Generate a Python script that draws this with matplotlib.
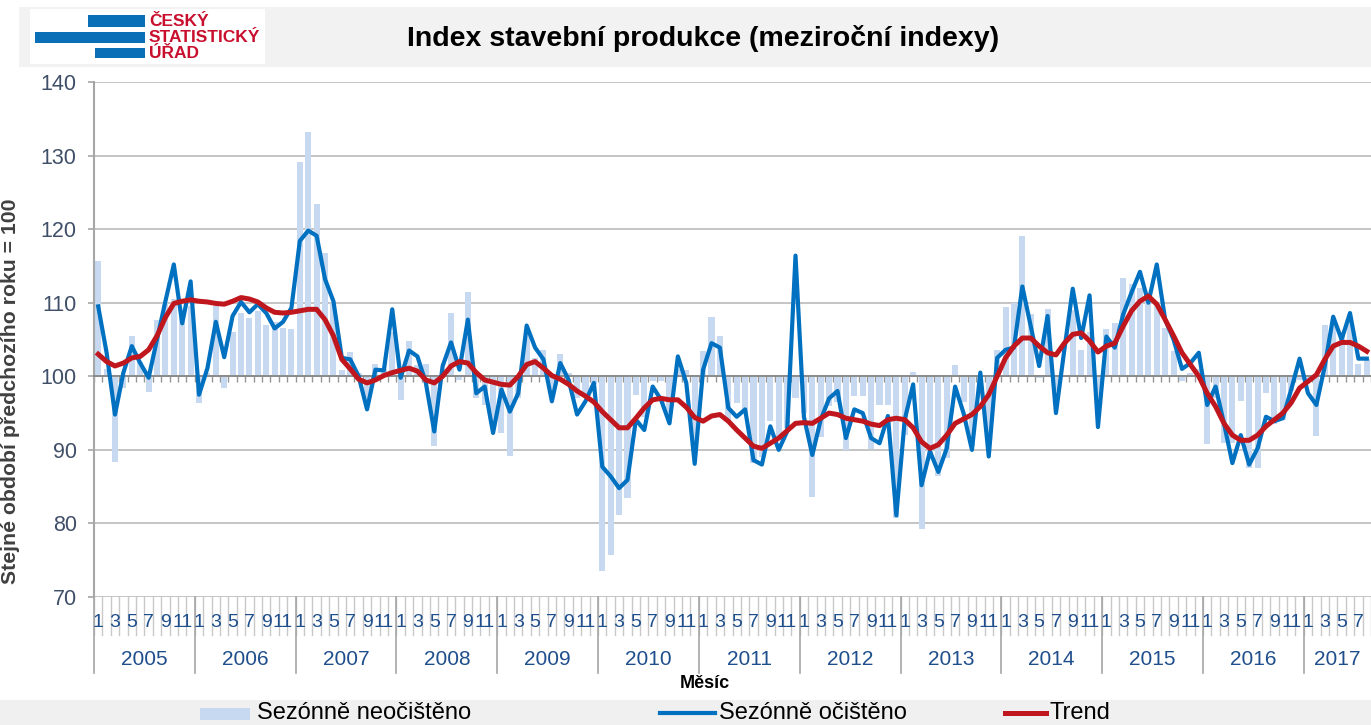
import numpy as np
import matplotlib
matplotlib.use('Agg')
import matplotlib.pyplot as plt
from matplotlib.patches import Rectangle
from matplotlib.lines import Line2D

plt.rcParams['font.family'] = ['Liberation Sans', 'DejaVu Sans']

# data: monthly year-on-year indices, Jan 2005 - Aug 2017
years = ['2005', '2006', '2007', '2008', '2009', '2010', '2011', '2012',
         '2013', '2014', '2015', '2016', '2017']

nsa = [115.7, 101.0, 88.3, 98.4, 105.5, 102.0, 97.8, 107.6, 110.0, 110.5, 108.0, 109.5,
       96.4, 100.5, 109.5, 98.4, 106.0, 108.6, 107.9, 108.9, 107.0, 107.4, 106.6, 106.4,
       129.1, 133.2, 123.4, 116.8, 110.0, 100.9, 103.3, 100.5, 96.0, 101.7, 101.0, 106.0,
       96.8, 104.8, 101.5, 101.7, 90.5, 101.0, 108.6, 99.5, 111.5, 97.0, 96.1, 93.0,
       92.3, 89.2, 97.0, 105.9, 102.5, 103.6, 98.0, 103.0, 100.5, 97.0, 97.5, 99.0,
       73.6, 75.7, 81.1, 83.4, 97.5, 94.5, 99.3, 99.3, 95.0, 101.0, 100.8, 90.0,
       103.4, 108.0, 105.5, 94.0, 96.4, 95.0, 88.2, 89.0, 93.9, 91.4, 93.0, 97.0,
       95.0, 83.6, 91.8, 96.0, 96.5, 90.0, 97.3, 97.3, 90.1, 96.1, 96.1, 80.7,
       92.0, 100.6, 79.2, 89.0, 86.5, 88.9, 101.5, 96.5, 90.5, 98.5, 92.0, 103.6,
       109.4, 109.9, 119.1, 108.5, 99.8, 109.2, 98.0, 100.2, 109.0, 103.6, 106.0, 96.0,
       106.4, 107.3, 113.3, 112.5, 112.0, 111.0, 110.0, 106.6, 103.5, 99.3, 100.5, 101.0,
       90.8, 97.0, 90.9, 91.0, 96.6, 87.5, 87.5, 97.7, 93.5, 94.0, 98.0, 99.5,
       99.5, 91.9, 107.0, 107.3, 106.0, 107.5, 101.7, 102.3]

sa = [109.5, 103.2, 94.8, 100.5, 104.1, 101.8, 99.8, 105.0, 110.2, 115.2, 107.2, 112.9,
      97.5, 101.1, 107.4, 102.6, 108.2, 110.1, 108.7, 109.8, 108.6, 106.5, 107.4, 109.3,
      118.4, 119.8, 119.1, 113.2, 110.2, 102.5, 102.3, 100.0, 95.5, 100.9, 100.8, 109.1,
      99.8, 103.5, 102.7, 99.1, 92.5, 101.4, 104.6, 100.9, 107.7, 97.7, 98.6, 92.3,
      98.2, 95.2, 97.7, 106.9, 103.9, 102.3, 96.6, 101.8, 99.5, 94.8, 96.6, 99.1,
      87.7, 86.4, 84.8, 85.9, 94.1, 92.7, 98.6, 96.8, 93.6, 102.7, 99.1, 88.1,
      100.9, 104.5, 103.9, 95.7, 94.5, 95.5, 88.6, 88.0, 93.2, 90.0, 92.5, 116.4,
      94.5, 89.3, 94.1, 97.0, 98.0, 91.6, 95.5, 95.0, 91.6, 90.9, 94.6, 81.1,
      94.1, 98.9, 85.2, 89.8, 87.0, 90.2, 98.6, 95.0, 90.0, 100.5, 89.1, 102.5,
      103.6, 103.9, 112.2, 106.8, 101.4, 108.2, 95.0, 103.6, 111.9, 105.2, 111.0, 93.1,
      105.4, 103.9, 108.4, 111.4, 114.2, 110.0, 115.2, 107.7, 105.0, 101.0, 101.8, 103.2,
      96.1, 98.6, 93.6, 88.2, 92.0, 88.0, 90.2, 94.5, 93.9, 94.3, 98.2, 102.4,
      97.7, 96.1, 101.4, 108.1, 105.0, 108.6, 102.4, 102.4]

trend = [103.0, 102.0, 101.4, 101.8, 102.5, 102.7, 103.6, 105.5, 108.0, 109.9, 110.2, 110.4,
         110.2, 110.1, 109.9, 109.8, 110.2, 110.7, 110.5, 110.1, 109.3, 108.7, 108.6, 108.7,
         108.9, 109.1, 109.1, 107.7, 105.5, 102.3, 101.0, 99.6, 99.1, 99.5, 100.1, 100.5,
         100.8, 101.1, 100.7, 99.5, 99.1, 100.0, 101.4, 102.0, 101.8, 100.5, 99.5, 99.2,
         98.9, 98.8, 100.0, 101.6, 102.0, 101.1, 100.1, 99.6, 98.9, 98.0, 97.3, 96.5,
         95.2, 94.1, 93.0, 93.0, 94.3, 95.7, 96.8, 97.0, 96.8, 96.8, 95.8, 94.4,
         93.9, 94.6, 94.8, 93.9, 92.7, 91.6, 90.5, 90.2, 90.9, 91.6, 92.6, 93.6,
         93.7, 93.6, 94.3, 95.0, 94.8, 94.3, 94.1, 93.9, 93.5, 93.3, 94.1, 94.3,
         94.1, 93.0, 91.1, 90.2, 90.7, 92.0, 93.6, 94.2, 94.8, 95.9, 97.5, 100.0,
         102.5, 104.1, 105.2, 105.2, 104.1, 103.2, 102.9, 104.5, 105.7, 105.9, 104.8, 103.3,
         104.1, 104.5, 106.8, 108.9, 110.2, 110.9, 109.8, 107.7, 105.5, 103.2, 101.6, 100.0,
         97.7, 95.9, 93.6, 92.0, 91.3, 91.3, 92.0, 93.2, 94.1, 95.0, 96.4, 98.4,
         99.3, 100.2, 102.3, 104.1, 104.6, 104.6, 104.1, 103.4]

W, H = 1371, 725
fig = plt.figure(figsize=(W / 100, H / 100), dpi=100)


def fx(px):
    return px / W


def fy(py):
    return 1 - py / H


# header band, logo, title
fig.add_artist(Rectangle((fx(19), fy(67)), fx(W) - fx(19), fy(7) - fy(67),
                         transform=fig.transFigure, color='#f2f2f2', lw=0))
fig.add_artist(Rectangle((fx(30), fy(64)), fx(265) - fx(30), fy(9) - fy(64),
                         transform=fig.transFigure, color='white', lw=0))
for x0, x1, y0, y1 in [(88, 145, 15, 27), (35, 145, 32, 43), (95, 145, 48, 58)]:
    fig.add_artist(Rectangle((fx(x0), fy(y1)), fx(x1) - fx(x0), fy(y0) - fy(y1),
                             transform=fig.transFigure, color='#0a6fb7', lw=0))
for txt, yy in [('ČESKÝ', 21), ('STATISTICKÝ', 37), ('ÚŘAD', 53)]:
    fig.text(fx(149), fy(yy), txt, color='#c8102e', fontsize=12.5, fontweight='bold',
             ha='left', va='center')
fig.text(fx(703), fy(39), 'Index stavební produkce (meziroční indexy)',
         fontsize=20.5, fontweight='bold', ha='center', va='center', color='black')

# legend band
fig.add_artist(Rectangle((0, 0), 1, fy(700), transform=fig.transFigure,
                         color='#f0f0f0', lw=0))

ax = fig.add_axes([fx(94), fy(597), fx(W) - fx(94), fy(82) - fy(597)])
n = len(sa)
x = np.arange(n)

ax.bar(x, np.array(nsa) - 100, bottom=100, width=0.72, color='#c6d9f0', zorder=2)
ax.plot(x, sa, color='#0070c0', lw=3.0, zorder=3, solid_joinstyle='round')
ax.plot(x, trend, color='#c0171f', lw=3.6, zorder=4, solid_joinstyle='round')

ax.set_ylim(70, 140)
ax.set_xlim(-0.5, 151.16)
ax.set_yticks(np.arange(70, 141, 10))
ax.yaxis.grid(True, color='#bfbfbf', lw=1.3, zorder=0)
ax.set_axisbelow(True)

for s in ['top', 'right']:
    ax.spines[s].set_visible(False)
ax.spines['left'].set_color('#a6a6a6')
ax.spines['left'].set_linewidth(1.5)
ax.spines['bottom'].set_position(('data', 100))
ax.spines['bottom'].set_color('#868686')
ax.spines['bottom'].set_linewidth(1.3)
ax.spines['bottom'].set_zorder(2.5)

ax.set_xticks(np.arange(-0.5, n, 1))
ax.set_xticklabels([])
ax.tick_params(axis='x', direction='out', length=4.5, width=1, color='#969696')
ax.tick_params(axis='y', direction='out', length=4.5, width=1.2, color='#a6a6a6',
               labelsize=15.5, labelcolor='#404f68', pad=8)

# two-level category labels under the plot
xt = ax.get_xaxis_transform()
for b in np.arange(-0.5, n, 1):
    ax.plot([b, b], [0, -0.074], transform=xt, clip_on=False, color='#c8c8c8', lw=1)
for k in range(len(years) + 1):
    b = min(12 * k, n) - 0.5
    if b > 151.16:
        continue
    ax.plot([b, b], [0, -0.148], transform=xt, clip_on=False, color='#a6a6a6', lw=1.2)
for i in range(n):
    m = i % 12 + 1
    if m % 2 == 1:
        ax.text(i, -0.049, str(m), transform=xt, ha='center', va='center',
                fontsize=14, color='#1f4e8c')
for k, yr in enumerate(years):
    start = 12 * k
    end = min(12 * (k + 1), n)
    ax.text((start + end - 1) / 2, -0.122, yr, transform=xt, ha='center', va='center',
            fontsize=15, color='#1f4e8c')

ax.set_ylabel('Stejné období předchozího roku = 100', fontsize=15.3, fontweight='bold',
              color='#404040')
ax.yaxis.set_label_coords(-0.058, 0.40)
fig.text(fx(705), fy(684), 'Měsíc', fontsize=13, fontweight='bold', ha='center',
         va='center', color='black')

# legend
fig.add_artist(Rectangle((fx(200), fy(720)), fx(250) - fx(200), fy(708) - fy(720),
                         transform=fig.transFigure, color='#c6d9f0', lw=0))
fig.add_artist(Line2D([fx(660), fx(715)], [fy(713), fy(713)], transform=fig.transFigure,
                      color='#0070c0', lw=3.0))
fig.add_artist(Line2D([fx(1005), fx(1046)], [fy(713), fy(713)], transform=fig.transFigure,
                      color='#c0171f', lw=3.6))
for txt, xx in [('Sezónně neočištěno', 257), ('Sezónně očištěno', 719), ('Trend', 1050)]:
    fig.text(fx(xx), fy(713), txt, fontsize=17, ha='left', va='center', color='black')

fig.savefig('out.png', dpi=100)
